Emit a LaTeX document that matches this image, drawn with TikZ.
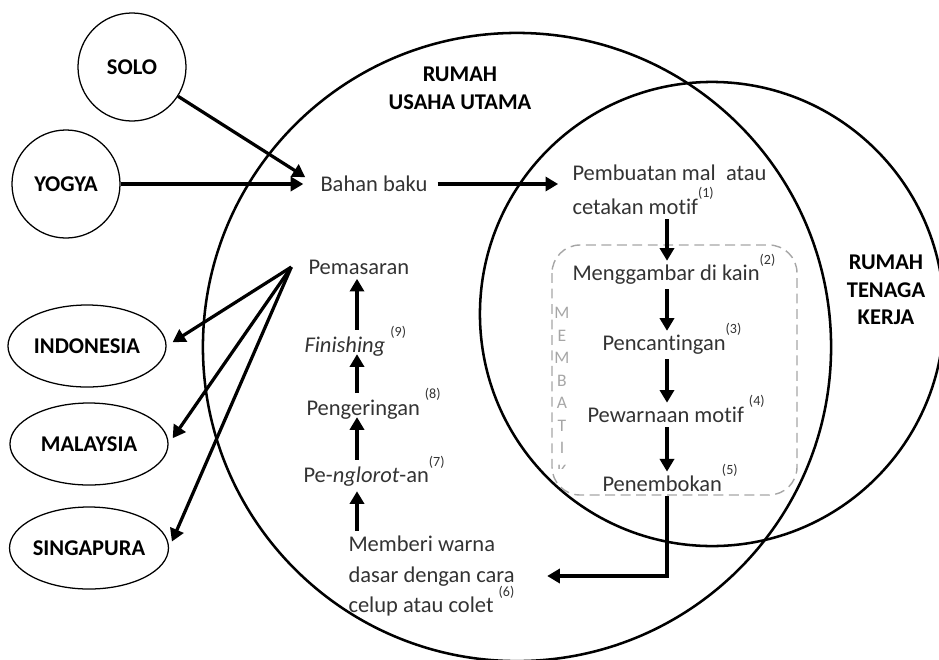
\documentclass[tikz,border=0pt]{standalone}
\usepackage{fontspec}
\setmainfont{Carlito}[Ligatures=NoCommon]
\usetikzlibrary{arrows.meta,shapes.geometric}
\newcommand{\nr}[1]{\raisebox{12pt}[0pt][0pt]{\fontsize{10}{12}\selectfont(#1)}}

\begin{document}
\begin{tikzpicture}[x=0.025cm, y=-0.025cm,
  house/.style={font=\fontsize{16}{20}\selectfont\bfseries, align=center},
  city/.style={draw, circle, line width=0.9pt, minimum size=2.7cm, font=\fontsize{16}{20}\selectfont\bfseries},
  country/.style={draw, ellipse, line width=0.9pt, inner sep=0pt, minimum width=3.95cm, minimum height=2.05cm, font=\fontsize{16}{20}\selectfont\bfseries},
  stage/.style={font=\fontsize{16}{20}\selectfont, text=black!80, inner sep=3pt, anchor=west},
  flow/.style={line width=2.3pt, -{Triangle[length=9pt, width=10pt]}}]
  \useasboundingbox (0,0) rectangle (939,659);

  % Draw the two houses
  \draw[line width=1.8pt] (517,347) circle[radius=7.85cm];
  \draw[line width=1.8pt] (712,314) circle[radius=5.8cm];
  \node[house] (usaha) at (460,88) {RUMAH\\USAHA UTAMA};
  \node[house, font=\fontsize{16}{19.5}\selectfont\bfseries] (tenaga) at (886,290) {RUMAH\\TENAGA\\KERJA};

  % Dashed box for membatik
  \draw[dashed, dash pattern=on 7pt off 4pt, black!35, line width=1pt, rounded corners=20pt] (552,245) rectangle (797,495);
  \begin{scope}
    \clip (540,295) rectangle (585,468);
    \node[font=\fontsize{12.5}{16}\selectfont, text=black!35, align=center] (membatik) at (562,392) {M\\E\\M\\B\\A\\T\\I\\K};
  \end{scope}

  % Cities and countries
  \node[city] (solo) at (132,67) {SOLO};
  \node[city] (yogya) at (66,184) {YOGYA};
  \node[country] (indo) at (87,346) {INDONESIA};
  \node[country] (malay) at (89,444) {MALAYSIA};
  \node[country] (sing) at (89,548) {SINGAPURA};

  % Stages, right column
  \coordinate (colR) at (667,0);
  \node[stage] (bahan) at (316,184) {Bahan baku};
  \node[stage, align=left, font=\fontsize{16}{24}\selectfont] (pemb) at (568,190) {Pembuatan mal\ \ atau\\cetakan motif\nr{1}};
  \node[stage] (mengg) at (568,275) {Menggambar di kain\nr{2}};
  \node[stage] (cant) at (598,345) {Pencantingan\nr{3}};
  \node[stage] (warna) at (583,415) {Pewarnaan motif \nr{4}};
  \node[stage] (tembok) at (598,484) {Penembokan\nr{5}};

  % Stages, left column
  \coordinate (colL) at (357,0);
  \node[stage, align=left, font=\fontsize{16}{22}\selectfont] (dasar) at (344,576) {Memberi warna\\dasar dengan cara\\celup atau colet \nr{6}};
  \node[stage] (nglorot) at (299,477) {Pe-\textit{nglorot}-an\nr{7}};
  \node[stage] (kering) at (302,410) {Pengeringan \nr{8}};
  \node[stage] (finish) at (300,347) {\textit{Finishing} \nr{9}};
  \node[stage] (pasar) at (304,267) {Pemasaran};

  % Raw material in
  \draw[flow, shorten >=9pt] (solo) -- (bahan.west);
  \draw[flow, shorten >=9pt] (yogya) -- (bahan.west);
  \draw[flow, shorten <=4pt, shorten >=7pt] (bahan.east) -- (bahan.east -| pemb.west);

  % Flow down
  \draw[flow] (pemb.south -| colR) -- (mengg.north -| colR);
  \draw[flow] (mengg.south -| colR) -- (cant.north -| colR);
  \draw[flow] (cant.south -| colR) -- (warna.north -| colR);
  \draw[flow] (warna.south -| colR) -- (tembok.north -| colR);
  \draw[flow, shorten >=20pt] (tembok.south -| colR) |- (dasar.east);

  % Flow up
  \draw[flow] (dasar.north -| colL) -- (nglorot.south -| colL);
  \draw[flow, shorten <=2pt, shorten >=-5pt] (nglorot.north -| colL) -- (kering.south -| colL);
  \draw[flow, shorten <=2pt, shorten >=-5pt] (kering.north -| colL) -- (finish.south -| colL);
  \draw[flow, shorten <=2pt] (finish.north -| colL) -- (pasar.south -| colL);

  % Markets
  \draw[flow, shorten >=5pt] ([xshift=-9pt]pasar.west) -- (indo.east);
  \draw[flow, shorten >=5pt] ([xshift=-9pt]pasar.west) -- (malay.east);
  \draw[flow, shorten >=5pt] ([xshift=-9pt]pasar.west) -- (sing.east);
\end{tikzpicture}
\end{document}
